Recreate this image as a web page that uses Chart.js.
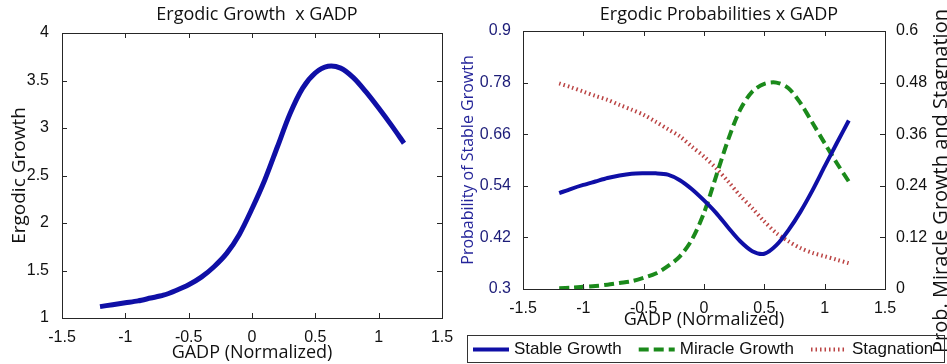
<!DOCTYPE html>
<html>
<head>
<meta charset="utf-8">
<script src="https://cdn.jsdelivr.net/npm/chart.js@4.4.1/dist/chart.umd.min.js"></script>
<style>
body { margin: 0; background: #fff; width: 947px; height: 364px; overflow: hidden; position: relative; }
#leftWrap { position: absolute; left: 0; top: 0; width: 470px; height: 364px; }
#rightWrap { position: absolute; left: 455px; top: 0; width: 492px; height: 364px; }
</style>
</head>
<body>
<div id="leftWrap"><canvas id="growthChart"></canvas></div>
<div id="rightWrap"><canvas id="probChart"></canvas></div>
<script>
// GADP (normalized) sample points
const gadp = [-1.2, -1.1, -1.0, -0.9, -0.8, -0.7, -0.6, -0.5, -0.4, -0.3, -0.2, -0.1, 0,
              0.1, 0.2, 0.3, 0.4, 0.5, 0.6, 0.7, 0.8, 0.9, 1.0, 1.1, 1.2];

const ergodicGrowth = [1.12, 1.14, 1.16, 1.18, 1.21, 1.24, 1.29, 1.35, 1.43, 1.54, 1.68, 1.88, 2.15,
                       2.45, 2.80, 3.15, 3.42, 3.58, 3.65, 3.63, 3.53, 3.38, 3.21, 3.03, 2.84];

const stableGrowth = [0.523, 0.533, 0.542, 0.550, 0.558, 0.564, 0.568, 0.569, 0.569, 0.566, 0.553, 0.532, 0.506,
                      0.477, 0.443, 0.411, 0.388, 0.382, 0.402, 0.437, 0.480, 0.530, 0.585, 0.639, 0.692];
const miracleGrowth = [0.002, 0.003, 0.005, 0.007, 0.010, 0.014, 0.018, 0.026, 0.036, 0.053, 0.076, 0.115, 0.177,
                       0.262, 0.347, 0.417, 0.459, 0.477, 0.480, 0.467, 0.432, 0.386, 0.339, 0.293, 0.250];
const stagnation = [0.478, 0.469, 0.459, 0.449, 0.440, 0.428, 0.417, 0.405, 0.389, 0.372, 0.355, 0.331, 0.308,
                    0.281, 0.250, 0.217, 0.188, 0.157, 0.130, 0.111, 0.095, 0.084, 0.076, 0.068, 0.060];

const xTicks = [-1.5, -1, -0.5, 0, 0.5, 1, 1.5];
const growthTicks = [1, 1.5, 2, 2.5, 3, 3.5, 4];
const stableTicks = [0.3, 0.42, 0.54, 0.66, 0.78, 0.9];
const otherTicks = [0, 0.12, 0.24, 0.36, 0.48, 0.6];

const toPoints = ys => gadp.map((x, i) => ({x: x, y: ys[i]}));
const fixTicks = list => scale => { scale.ticks = list.map(v => ({value: v})); };
const plainLabel = v => String(v);

const tickFont = {family: 'Liberation Sans', size: 16};

// box round the plot area with MATLAB style inward ticks, plus the titles
const boxTicks = {
    id: 'boxTicks',
    afterDatasetsDraw(chart, args, opts) {
        const {ctx, chartArea: a, scales} = chart;
        const len = 5;
        ctx.save();
        ctx.strokeStyle = '#262626';
        ctx.lineWidth = 1;
        ctx.strokeRect(Math.round(a.left) + 0.5, Math.round(a.top) + 0.5,
                       Math.round(a.width), Math.round(a.height));
        ctx.beginPath();
        scales.x.ticks.forEach(t => {
            const p = Math.round(scales.x.getPixelForValue(t.value)) + 0.5;
            ctx.moveTo(p, a.bottom); ctx.lineTo(p, a.bottom - len);
            ctx.moveTo(p, a.top); ctx.lineTo(p, a.top + len);
        });
        scales[opts.left].ticks.forEach(t => {
            const p = Math.round(scales[opts.left].getPixelForValue(t.value)) + 0.5;
            ctx.moveTo(a.left, p); ctx.lineTo(a.left + len, p);
        });
        scales[opts.right].ticks.forEach(t => {
            const p = Math.round(scales[opts.right].getPixelForValue(t.value)) + 0.5;
            ctx.moveTo(a.right, p); ctx.lineTo(a.right - len, p);
        });
        ctx.stroke();

        ctx.fillStyle = '#111';
        ctx.font = '18px "Open Sans"';
        ctx.textAlign = 'center';
        ctx.textBaseline = 'middle';
        ctx.fillText(opts.title, (a.left + a.right) / 2 + opts.dx, 15);

        if (opts.sideTitle) {
            // right hand label reads bottom to top, as in the original
            ctx.font = '20px "Open Sans"';
            ctx.translate(opts.sideX, opts.sideY);
            ctx.rotate(-Math.PI / 2);
            ctx.fillText(opts.sideTitle, 0, 0);
        }
        ctx.restore();
    }
};

// legend in a frame, samples taken from the dataset styles
const boxLegend = {
    id: 'boxLegend',
    afterDraw(chart, args, opts) {
        const ctx = chart.ctx;
        ctx.save();
        ctx.strokeStyle = '#333';
        ctx.lineWidth = 1;
        ctx.strokeRect(opts.left + 0.5, opts.top + 0.5, opts.width, opts.height);
        ctx.font = '17px "Liberation Sans"';
        ctx.textBaseline = 'middle';
        ctx.textAlign = 'left';
        const y = opts.top + opts.height / 2 + 1;
        let x = opts.left + 6;
        chart.data.datasets.forEach(ds => {
            ctx.strokeStyle = ds.borderColor;
            ctx.lineWidth = ds.borderWidth;
            ctx.setLineDash(ds.borderDash || []);
            ctx.beginPath();
            ctx.moveTo(x, y);
            ctx.lineTo(x + 36, y);
            ctx.stroke();
            ctx.setLineDash([]);
            x += 41;
            ctx.fillStyle = '#111';
            ctx.fillText(ds.label, x, y);
            x += ctx.measureText(ds.label).width + 17;
        });
        ctx.restore();
    }
};

new Chart(document.querySelector('#growthChart').getContext('2d'), {
    type: 'line',
    data: {
        datasets: [{
            label: 'Ergodic Growth',
            data: toPoints(ergodicGrowth),
            borderColor: '#0f0fa6',
            borderWidth: 5,
            pointRadius: 0,
            tension: 0.3,
            fill: false
        }]
    },
    options: {
        responsive: true,
        maintainAspectRatio: false,
        animation: false,
        layout: {padding: {top: 33, right: 28, left: 0, bottom: 0}},
        scales: {
            x: {
                type: 'linear', min: -1.5, max: 1.5,
                afterBuildTicks: fixTicks(xTicks),
                afterFit: s => { s.height = 46; },
                grid: {display: false}, border: {display: false},
                ticks: {color: '#111', font: tickFont, padding: 2, autoSkip: false, maxRotation: 0, callback: plainLabel},
                title: {display: true, text: 'GADP (Normalized)', color: '#111',
                        font: {family: 'Open Sans', size: 18}, padding: {top: 0, bottom: 0}}
            },
            y: {
                type: 'linear', min: 1, max: 4,
                afterBuildTicks: fixTicks(growthTicks),
                afterFit: s => { s.width = 62; },
                grid: {display: false}, border: {display: false},
                ticks: {color: '#111', font: tickFont, padding: 5, autoSkip: false, callback: plainLabel},
                title: {display: true, text: 'Ergodic Growth', color: '#111',
                        font: {family: 'Open Sans', size: 19}, padding: {top: 8, bottom: 0}}
            }
        },
        plugins: {
            legend: {display: false},
            tooltip: {enabled: false},
            boxTicks: {left: 'y', right: 'y', title: 'Ergodic Growth  x GADP', dx: 5}
        }
    },
    plugins: [boxTicks]
});

new Chart(document.querySelector('#probChart').getContext('2d'), {
    type: 'line',
    data: {
        datasets: [
            {
                label: 'Stable Growth',
                data: toPoints(stableGrowth),
                yAxisID: 'y',
                borderColor: '#0f0fa6',
                borderWidth: 4,
                pointRadius: 0,
                tension: 0.3
            },
            {
                label: 'Miracle Growth',
                data: toPoints(miracleGrowth),
                yAxisID: 'y1',
                borderColor: '#1b8a1b',
                borderWidth: 4,
                borderDash: [10, 5],
                pointRadius: 0,
                tension: 0.3
            },
            {
                label: 'Stagnation',
                data: toPoints(stagnation),
                yAxisID: 'y1',
                borderColor: '#bb4444',
                borderWidth: 4,
                borderDash: [1.5, 3],
                pointRadius: 0,
                tension: 0.3
            }
        ]
    },
    options: {
        responsive: true,
        maintainAspectRatio: false,
        animation: false,
        layout: {padding: {top: 31, right: 0, left: 0, bottom: 33}},
        scales: {
            x: {
                type: 'linear', min: -1.5, max: 1.5,
                afterBuildTicks: fixTicks(xTicks),
                afterFit: s => { s.height = 42; },
                grid: {display: false}, border: {display: false},
                ticks: {color: '#111', font: tickFont, padding: 2, autoSkip: false, maxRotation: 0, callback: plainLabel},
                title: {display: true, text: 'GADP (Normalized)', color: '#111',
                        font: {family: 'Open Sans', size: 18}, padding: {top: 0, bottom: 0}}
            },
            y: {
                type: 'linear', position: 'left', min: 0.3, max: 0.9,
                afterBuildTicks: fixTicks(stableTicks),
                afterFit: s => { s.width = 68; },
                grid: {display: false}, border: {display: false},
                ticks: {color: '#1c1c78', font: tickFont, padding: 4, autoSkip: false, callback: plainLabel},
                title: {display: true, text: 'Probability of Stable Growth', color: '#25259a',
                        font: {family: 'Open Sans', size: 16}, padding: {top: 4, bottom: 0}}
            },
            y1: {
                type: 'linear', position: 'right', min: 0, max: 0.6,
                afterBuildTicks: fixTicks(otherTicks),
                afterFit: s => { s.width = 62; },
                grid: {display: false}, border: {display: false},
                ticks: {color: '#111', font: tickFont, padding: 3, autoSkip: false, callback: plainLabel},
                title: {display: false}
            }
        },
        plugins: {
            legend: {display: false},
            tooltip: {enabled: false},
            boxTicks: {left: 'y', right: 'y1', title: 'Ergodic Probabilities x GADP', dx: 15,
                       sideTitle: 'Prob. Miracle Growth and Stagnation', sideX: 486, sideY: 181},
            boxLegend: {left: 12, top: 335, width: 477, height: 27}
        }
    },
    plugins: [boxTicks, boxLegend]
});
</script>
</body>
</html>
